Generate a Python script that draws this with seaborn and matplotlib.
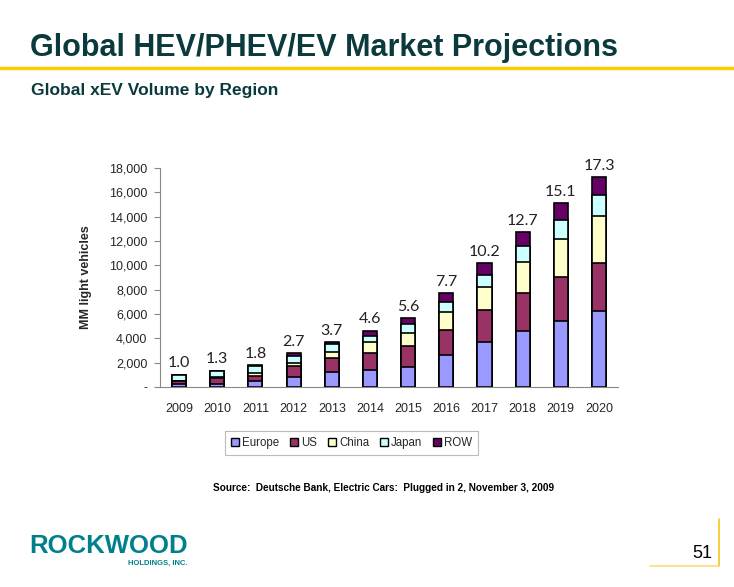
import matplotlib
matplotlib.use("Agg")
import matplotlib.pyplot as plt
from matplotlib.patches import Patch
from matplotlib.lines import Line2D
import seaborn as sns
import pandas as pd

years = ["2009", "2010", "2011", "2012", "2013", "2014",
         "2015", "2016", "2017", "2018", "2019", "2020"]
europe = [200, 220, 440, 820, 1260, 1400, 1670, 2630, 3670, 4570, 5450, 6270]
us = [250, 520, 490, 880, 1070, 1420, 1700, 2050, 2630, 3150, 3590, 3920]
china = [50, 80, 170, 270, 520, 850, 1070, 1510, 1920, 2520, 3120, 3840]
japan = [450, 470, 600, 550, 660, 550, 740, 770, 1010, 1350, 1540, 1720]
row = [50, 50, 110, 250, 190, 410, 490, 760, 960, 1110, 1420, 1510]
totals = [1.0, 1.3, 1.8, 2.7, 3.7, 4.6, 5.6, 7.7, 10.2, 12.7, 15.1, 17.3]

regions = ["Europe", "US", "China", "Japan", "ROW"]
colors = ["#9999FF", "#993366", "#FFFFCC", "#CCFFFF", "#660066"]

df = pd.DataFrame({"Year": years, "Europe": europe, "US": us,
                   "China": china, "Japan": japan, "ROW": row})
cum = df[regions].cumsum(axis=1)

sns.set_style("white")
plt.rcParams["font.family"] = ["Liberation Sans", "DejaVu Sans"]

fig = plt.figure(figsize=(7.34, 5.87), dpi=100)
ax = fig.add_axes([0.218, 0.341, 0.624, 0.373])

# draw cumulative bars from the top down so they look stacked
for reg, col in reversed(list(zip(regions, colors))):
    sns.barplot(x=df["Year"], y=cum[reg], color=col, edgecolor="black",
                linewidth=1.2, width=0.37, saturation=1, ax=ax)

for i, t in enumerate(totals):
    ax.text(i, cum["ROW"][i] + 350, "%.1f" % t, ha="center", va="bottom",
            fontsize=11.5, family=["Lato", "DejaVu Sans"], color="#222222")

ax.set_xlim(-0.5, 11.5)
ax.set_ylim(0, 18000)
ax.set_yticks(range(0, 18001, 2000))
ax.set_yticklabels(["-"] + ["{:,}".format(v) for v in range(2000, 18001, 2000)],
                   fontsize=9)
ax.set_xticks(range(12))
ax.set_xticklabels(years, fontsize=9)
ax.set_xticks([i - 0.5 for i in range(13)], minor=True)
ax.tick_params(axis="x", which="major", length=0, pad=12)
ax.tick_params(axis="x", which="minor", length=4, color="#888888", direction="out")
ax.tick_params(axis="y", length=4, color="#888888", direction="out", left=True, pad=5)
ax.set_xlabel("")
ax.set_ylabel("MM light vehicles", fontsize=9, fontweight="bold", labelpad=12)
for s in ["top", "right"]:
    ax.spines[s].set_visible(False)
for s in ["left", "bottom"]:
    ax.spines[s].set_color("#888888")
    ax.spines[s].set_linewidth(0.8)

handles = [Patch(facecolor=c, edgecolor="black", label=r) for r, c in zip(regions, colors)]
leg = fig.legend(handles=handles, loc="center", bbox_to_anchor=(0.479, 0.245),
                 ncol=5, fontsize=8.3, frameon=True, fancybox=False,
                 handlelength=0.7, handleheight=0.7, handletextpad=0.3,
                 columnspacing=0.9, borderpad=0.5)
leg.get_frame().set_edgecolor("#aaaaaa")
leg.get_frame().set_linewidth(0.8)

title_color = "#0B3A3C"
fig.text(0.041, 0.918, "Global HEV/PHEV/EV Market Projections", fontsize=22,
         fontweight="bold", color=title_color, va="center", ha="left")
fig.add_artist(Line2D([0, 1], [0.885, 0.885], color="#FFCC00", linewidth=2.5))
fig.text(0.042, 0.846, "Global xEV Volume by Region", fontsize=12.5,
         fontweight="bold", color=title_color, va="center", ha="left")
fig.text(0.523, 0.168, "Source:  Deutsche Bank, Electric Cars:  Plugged in 2, November 3, 2009",
         fontsize=7.2, fontweight="bold", color="black", ha="center", va="center")

# footer
fig.text(0.04, 0.07, "ROCKWOOD", fontsize=18.5, fontweight="bold", color="#00808A",
         ha="left", va="center")
fig.text(0.255, 0.04, "HOLDINGS, INC.", fontsize=5.5, fontweight="bold", color="#00808A",
         ha="right", va="center")
fig.text(0.97, 0.057, "51", fontsize=13, color="black", ha="right", va="center")
fig.add_artist(Line2D([0.979, 0.979], [0.035, 0.115], color="#F5C518", linewidth=1.2))
fig.add_artist(Line2D([0.885, 0.979], [0.035, 0.035], color="#F8DC80", linewidth=1.2))

fig.savefig("out.png", dpi=100)
